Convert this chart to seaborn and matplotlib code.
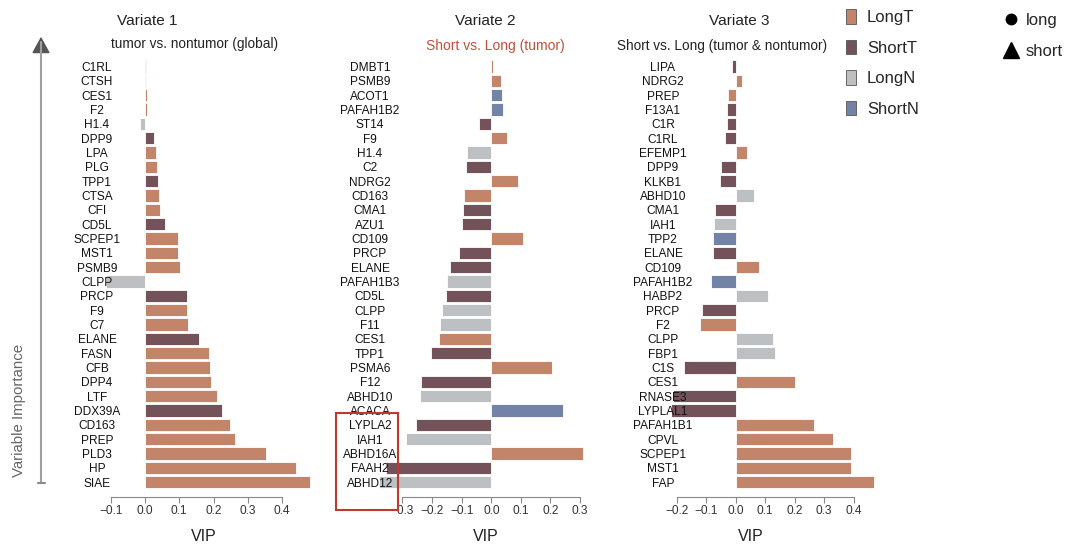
import matplotlib
matplotlib.use("Agg")
import matplotlib.pyplot as plt
import seaborn as sns
import pandas as pd
from matplotlib.patches import Patch, Rectangle, FancyArrowPatch
from matplotlib.lines import Line2D

sns.set_theme(style="white")
plt.rcParams["font.family"] = ["Liberation Sans", "DejaVu Sans"]

GROUP_COLORS = {"LongT": "#C2856A", "ShortT": "#735259",
                "LongN": "#BCC0C3", "ShortN": "#7283A6"}

# ---- Variate 1: tumor vs. nontumor (global) ----
v1_genes = ["C1RL", "CTSH", "CES1", "F2", "H1.4", "DPP9", "LPA", "PLG", "TPP1", "CTSA",
            "CFI", "CD5L", "SCPEP1", "MST1", "PSMB9", "CLPP", "PRCP", "F9", "C7", "ELANE",
            "FASN", "CFB", "DPP4", "LTF", "DDX39A", "CD163", "PREP", "PLD3", "HP", "SIAE"]
v1_vip = [0.003, 0.003, 0.005, 0.007, -0.015, 0.027, 0.031, 0.036, 0.039, 0.041,
          0.045, 0.057, 0.095, 0.095, 0.101, -0.113, 0.122, 0.124, 0.126, 0.157,
          0.187, 0.191, 0.192, 0.211, 0.224, 0.248, 0.263, 0.354, 0.440, 0.481]
v1_group = ["ShortT", "LongT", "LongT", "LongT", "LongN", "ShortT", "LongT", "LongT", "ShortT", "LongT",
            "LongT", "ShortT", "LongT", "LongT", "LongT", "LongN", "ShortT", "LongT", "LongT", "ShortT",
            "LongT", "LongT", "LongT", "LongT", "ShortT", "LongT", "LongT", "LongT", "LongT", "LongT"]

# ---- Variate 2: Short vs. Long (tumor) ----
v2_genes = ["DMBT1", "PSMB9", "ACOT1", "PAFAH1B2", "ST14", "F9", "H1.4", "C2", "NDRG2", "CD163",
            "CMA1", "AZU1", "CD109", "PRCP", "ELANE", "PAFAH1B3", "CD5L", "CLPP", "F11", "CES1",
            "TPP1", "PSMA6", "F12", "ABHD10", "ACACA", "LYPLA2", "IAH1", "ABHD16A", "FAAH2", "ABHD12"]
v2_vip = [0.006, 0.032, 0.037, 0.038, -0.041, 0.054, -0.082, -0.085, 0.089, -0.091,
          -0.095, -0.098, 0.107, -0.108, -0.141, -0.150, -0.154, -0.168, -0.172, -0.178,
          -0.204, 0.206, -0.236, -0.241, 0.241, -0.254, -0.289, 0.309, -0.357, -0.379]
v2_group = ["LongT", "LongT", "ShortN", "ShortN", "ShortT", "LongT", "LongN", "ShortT", "LongT", "LongT",
            "ShortT", "ShortT", "LongT", "ShortT", "ShortT", "LongN", "ShortT", "LongN", "LongN", "LongT",
            "ShortT", "LongT", "ShortT", "LongN", "ShortN", "ShortT", "LongN", "LongT", "ShortT", "LongN"]

# ---- Variate 3: Short vs. Long (tumor & nontumor) ----
v3_genes = ["LIPA", "NDRG2", "PREP", "F13A1", "C1R", "C1RL", "EFEMP1", "DPP9", "KLKB1", "ABHD10",
            "CMA1", "IAH1", "TPP2", "ELANE", "CD109", "PAFAH1B2", "HABP2", "PRCP", "F2", "CLPP",
            "FBP1", "C1S", "CES1", "RNASE3", "LYPLAL1", "PAFAH1B1", "CPVL", "SCPEP1", "MST1", "FAP"]
v3_vip = [-0.012, 0.020, -0.026, -0.028, -0.031, -0.036, 0.037, -0.049, -0.053, 0.063,
          -0.069, -0.073, -0.076, -0.078, 0.079, -0.085, 0.111, -0.113, -0.120, 0.125,
          0.133, -0.176, 0.200, -0.211, -0.219, 0.266, 0.329, 0.389, 0.389, 0.470]
v3_group = ["ShortT", "LongT", "LongT", "ShortT", "ShortT", "ShortT", "LongT", "ShortT", "ShortT", "LongN",
            "ShortT", "LongN", "ShortN", "ShortT", "LongT", "ShortN", "LongN", "ShortT", "LongT", "LongN",
            "LongN", "ShortT", "LongT", "ShortT", "ShortT", "LongT", "LongT", "LongT", "LongT", "LongT"]

variate_titles = ["Variate 1", "Variate 2", "Variate 3"]
variate_subtitles = ["tumor vs. nontumor (global)", "Short vs. Long (tumor)",
                     "Short vs. Long (tumor & nontumor)"]
subtitle_colors = ["#222222", "#C0503A", "#222222"]

W, H = 1067, 548
fig = plt.figure(figsize=(W / 100, H / 100), dpi=100)


def fig_box(left, top, width, height):
    return [left / W, 1 - (top + height) / H, width / W, height / H]


AX_TOP, AX_H = 59.3, 437.8
panels = [
    dict(genes=v1_genes, vip=v1_vip, group=v1_group, left=103.8, width=209.2,
         xlim=(-0.12, 0.49), ticks=[-0.1, 0.0, 0.1, 0.2, 0.3, 0.4], pad=4.9, xlab=0.479,
         title_x=147, sub_x=195, sub_y=43.7),
    dict(genes=v2_genes, vip=v2_vip, group=v2_group, left=372.9, width=213.1,
         xlim=(-0.40, 0.32), ticks=[-0.3, -0.2, -0.1, 0.0, 0.1, 0.2, 0.3], pad=2.1, xlab=0.529,
         title_x=485, sub_x=495, sub_y=45.7),
    dict(genes=v3_genes, vip=v3_vip, group=v3_group, left=666.4, width=213.9,
         xlim=(-0.235, 0.49), ticks=[-0.2, -0.1, 0.0, 0.1, 0.2, 0.3, 0.4], pad=2.45, xlab=0.393,
         title_x=739, sub_x=722.5, sub_y=45.7),
]

for i, p in enumerate(panels):
    ax = fig.add_axes(fig_box(p["left"], AX_TOP, p["width"], AX_H))
    df = pd.DataFrame({"gene": p["genes"], "vip": p["vip"], "group": p["group"]})
    sns.barplot(data=df, x="vip", y="gene", hue="group", order=p["genes"],
                palette=GROUP_COLORS, dodge=False, width=0.86, saturation=1,
                edgecolor="white", linewidth=0.6, legend=False, ax=ax)
    n = len(p["genes"])
    ax.set_xlim(*p["xlim"])
    ax.set_ylim(n - 1 + 1.05, -0.5)
    ax.set_axisbelow(False)
    sns.despine(ax=ax, left=True)
    ax.spines["bottom"].set_bounds(p["ticks"][0], p["ticks"][-1])
    ax.spines["bottom"].set_color("#888888")
    ax.spines["bottom"].set_linewidth(0.8)
    ax.set_xticks(p["ticks"])
    ax.tick_params(axis="x", direction="out", length=4, width=0.8, color="#888888",
                   labelsize=8.6, labelcolor="#333333", pad=2, bottom=True)
    ax.set_yticks(range(n), labels=p["genes"], ha="center")
    ax.tick_params(axis="y", length=0, pad=p["pad"], labelsize=8.6, labelcolor="#111111")
    ax.set_ylabel("")
    ax.set_xlabel("VIP", fontsize=11.5, color="#222222")
    ax.xaxis.set_label_coords(p["xlab"], -0.072)
    ax.patch.set_alpha(0)

    fig.text(p["title_x"] / W, 1 - 20.7 / H, variate_titles[i], ha="center", va="center",
             fontsize=11.1, color="#222222")
    fig.text(p["sub_x"] / W, 1 - p["sub_y"] / H, variate_subtitles[i], ha="center",
             va="center", fontsize=9.8 if i != 1 else 10, color=subtitle_colors[i])

# highlight box around the last genes of variate 2
fig.add_artist(Rectangle((336 / W, (H - 510) / H), 62 / W, 97 / H, transform=fig.transFigure,
                         fill=False, edgecolor="#C0392B", linewidth=1.5))

# importance arrow on the left
fig.add_artist(Line2D([41 / W, 41 / W], [1 - 483 / H, 1 - 42 / H], transform=fig.transFigure,
                      color="#A0A0A0", linewidth=1.5))
fig.add_artist(Line2D([38 / W, 45 / W], [1 - 483 / H, 1 - 483 / H], transform=fig.transFigure,
                      color="#8A8A8A", linewidth=1.5))
fig.add_artist(FancyArrowPatch((41 / W, 1 - 46 / H), (41 / W, 1 - 34 / H),
                               transform=fig.transFigure, arrowstyle="-|>,head_length=4,head_width=2.2",
                               color="#555555", linewidth=1.2, mutation_scale=2.5))
fig.text(19 / W, 1 - 410 / H, "Variable Importance", rotation=90, ha="center", va="center",
         fontsize=10.8, color="#666666")

# group legend
group_handles = [Patch(facecolor=c, edgecolor="#555555", linewidth=0.6, label=g)
                 for g, c in GROUP_COLORS.items()]
fig.legend(handles=group_handles, loc="upper left", bbox_to_anchor=(846 / W, 1 - 9 / H),
           frameon=False, fontsize=12, handlelength=0.6, handleheight=1.0,
           handletextpad=0.66, labelspacing=0.86, borderpad=0, borderaxespad=0)

# marker legend
shape_handles = [Line2D([], [], linestyle="none", marker="o", markersize=7.5, color="black", label="long"),
                 Line2D([], [], linestyle="none", marker="^", markersize=11, color="black", label="short")]
fig.legend(handles=shape_handles, loc="upper left", bbox_to_anchor=(1003 / W, 1 - 13 / H),
           frameon=False, fontsize=12, handlelength=1.0, handletextpad=0.35,
           labelspacing=0.98, borderpad=0, borderaxespad=0)

fig.savefig("out.png", dpi=100, facecolor="white")
